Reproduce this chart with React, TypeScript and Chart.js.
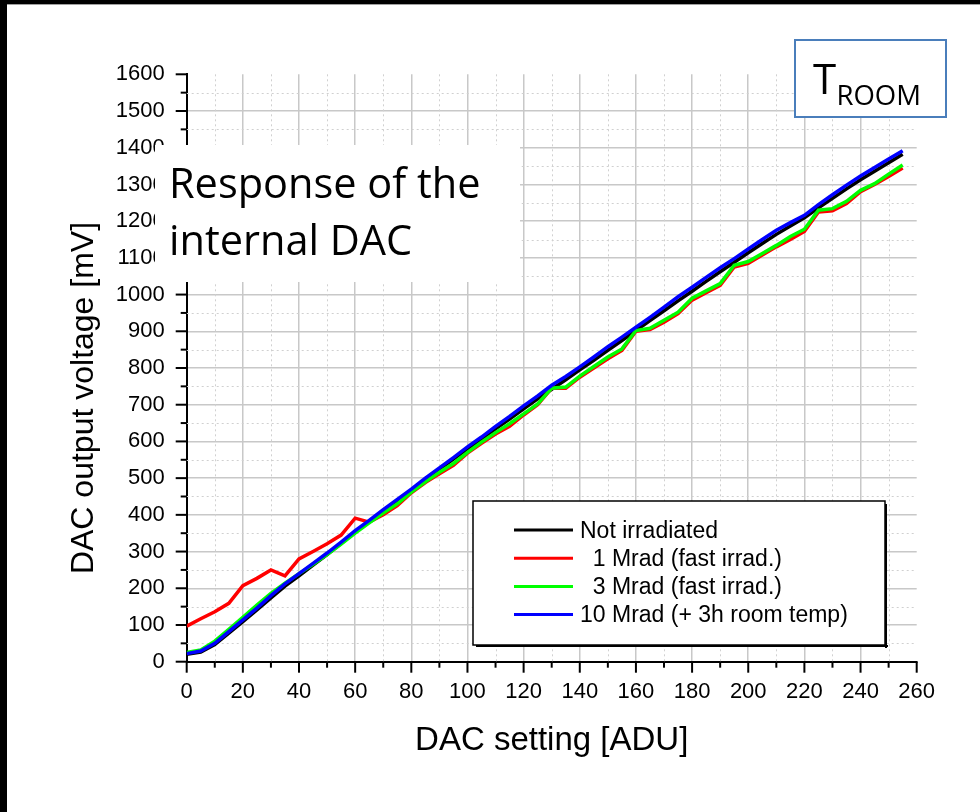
import { useEffect, useRef } from 'react';
import { Chart, registerables } from 'chart.js';

Chart.register(...registerables);

// DAC setting [ADU]
const dacSettings = [
  0, 5, 10, 15, 20, 25, 30, 35, 40, 45, 50, 55, 60, 65, 70, 75, 80, 85, 90, 95,
  100, 105, 110, 115, 120, 125, 130, 135, 140, 145, 150, 155, 160, 165, 170, 175,
  180, 185, 190, 195, 200, 205, 210, 215, 220, 225, 230, 235, 240, 245, 250, 255,
];

// DAC output voltage [mV]
const notIrradiated = [
  20, 26, 47, 78, 109, 141, 174, 206, 234, 263, 292, 322, 353, 382, 411, 439, 467, 496, 524, 552,
  580, 607, 634, 661, 689, 716, 742, 768, 795, 821, 848, 875, 902, 929, 956, 983,
  1009, 1036, 1062, 1088, 1114, 1139, 1164, 1187, 1209, 1236, 1262, 1288, 1313, 1336, 1359, 1382,
];
const mrad1 = [
  97, 117, 136, 159, 207, 227, 250, 234, 280, 300, 321, 345, 391, 380, 400, 425, 460, 488, 512, 535,
  568, 595, 620, 641, 672, 700, 745, 745, 775, 800, 825, 848, 900, 905, 925, 948,
  985, 1005, 1025, 1075, 1085, 1108, 1130, 1150, 1172, 1225, 1228, 1248, 1280, 1300, 1322, 1345,
];
const mrad3 = [
  25, 32, 56, 88, 121, 154, 186, 214, 240, 265, 292, 320, 350, 378, 405, 430, 462, 490, 516, 540,
  570, 598, 624, 648, 675, 702, 745, 748, 778, 804, 830, 852, 902, 908, 930, 952,
  990, 1010, 1030, 1080, 1090, 1112, 1134, 1158, 1178, 1230, 1234, 1254, 1284, 1302, 1328, 1353,
];
const mrad10 = [
  22, 29, 50, 82, 114, 146, 180, 212, 240, 268, 296, 326, 357, 385, 414, 442, 470, 500, 528, 556,
  585, 612, 641, 668, 697, 724, 753, 777, 803, 830, 858, 884, 911, 938, 966, 994,
  1020, 1047, 1073, 1098, 1124, 1150, 1175, 1196, 1216, 1245, 1272, 1298, 1323, 1346, 1369, 1392,
];

const seriesLabels = [
  'Not irradiated',
  '  1 Mrad (fast irrad.)',
  '  3 Mrad (fast irrad.)',
  '10 Mrad (+ 3h room temp)',
];
const seriesColors = ['#000000', '#ff0000', '#00ff00', '#0000ff'];
const seriesValues = [notIrradiated, mrad1, mrad3, mrad10];
const drawOrder = [3, 2, 1, 0];

const xAxisTitle = 'DAC setting [ADU]';
const yAxisTitle = 'DAC output voltage [mV]';
const noteLines = ['Response of the', 'internal DAC'];
const tempMain = 'T';
const tempSub = 'ROOM';

const SANS = '"Liberation Sans", Arial, sans-serif';
const OPEN = '"Open Sans", "Noto Sans", sans-serif';

const decorPlugin = {
  id: 'decor',
  beforeDatasetsDraw(chart: any) {
    const { ctx, chartArea: a, scales } = chart;
    const x = scales.x;
    const y = scales.y;
    ctx.save();
    ctx.strokeStyle = '#d0d0d0';
    ctx.lineWidth = 1;
    ctx.setLineDash([2, 3]);
    for (let v = 50; v < 1600; v += 100) {
      const py = Math.round(y.getPixelForValue(v)) + 0.5;
      ctx.beginPath();
      ctx.moveTo(a.left, py);
      ctx.lineTo(a.right, py);
      ctx.stroke();
    }
    for (let v = 10; v < 260; v += 20) {
      const px = Math.round(x.getPixelForValue(v)) + 0.5;
      ctx.beginPath();
      ctx.moveTo(px, a.top);
      ctx.lineTo(px, a.bottom);
      ctx.stroke();
    }
    ctx.restore();
  },
  afterDraw(chart: any) {
    const { ctx, chartArea: a, scales } = chart;
    const x = scales.x;
    const y = scales.y;
    ctx.save();

    // tick marks
    ctx.strokeStyle = '#000';
    ctx.lineWidth = 2;
    ctx.setLineDash([]);
    for (let v = 0; v <= 1600; v += 50) {
      const py = y.getPixelForValue(v);
      const len = v % 100 === 0 ? 11 : 6;
      ctx.beginPath();
      ctx.moveTo(a.left, py);
      ctx.lineTo(a.left - len, py);
      ctx.stroke();
    }
    for (let v = 0; v <= 260; v += 10) {
      const px = x.getPixelForValue(v);
      const len = v % 20 === 0 ? 11 : 6;
      ctx.beginPath();
      ctx.moveTo(px, a.bottom);
      ctx.lineTo(px, a.bottom + len);
      ctx.stroke();
    }

    // axis titles
    ctx.fillStyle = '#000';
    ctx.font = '33px ' + SANS;
    ctx.textAlign = 'center';
    ctx.textBaseline = 'alphabetic';
    ctx.fillText(xAxisTitle, (a.left + a.right) / 2, 750);
    ctx.save();
    ctx.translate(93, 398);
    ctx.rotate(-Math.PI / 2);
    ctx.font = '32px ' + SANS;
    ctx.fillText(yAxisTitle, 0, 0);
    ctx.restore();

    // legend
    const lx = 473, ly = 501, lw = 412, lh = 144;
    ctx.fillStyle = '#fff';
    ctx.fillRect(lx, ly, lw, lh);
    ctx.fillStyle = '#000';
    ctx.fillRect(lx + 3, ly + lh, lw, 2);
    ctx.fillRect(lx + lw, ly + 3, 2, lh);
    ctx.strokeStyle = '#000';
    ctx.lineWidth = 1.5;
    ctx.strokeRect(lx, ly, lw, lh);
    ctx.font = '23px ' + SANS;
    ctx.textAlign = 'left';
    chart.data.datasets.forEach((ds: any, i: number) => {
      const base = 537.7 + i * 28.2;
      ctx.strokeStyle = ds.borderColor;
      ctx.lineWidth = 3;
      ctx.beginPath();
      ctx.moveTo(514, base - 7.7);
      ctx.lineTo(573, base - 7.7);
      ctx.stroke();
      ctx.fillStyle = '#000';
      ctx.fillText(ds.label, 580, base);
    });

    // note box
    ctx.fillStyle = '#fff';
    ctx.fillRect(155, 145, 365, 137);
    ctx.fillStyle = '#000';
    ctx.font = '41.5px ' + OPEN;
    ctx.fillText(noteLines[0], 169, 198);
    ctx.fillText(noteLines[1], 169, 255);

    // T_ROOM box
    ctx.fillStyle = '#fff';
    ctx.fillRect(795, 40, 151, 77);
    ctx.strokeStyle = '#4a7ebb';
    ctx.lineWidth = 2;
    ctx.strokeRect(795, 40, 151, 77);
    ctx.fillStyle = '#000';
    ctx.font = '42px ' + OPEN;
    ctx.fillText(tempMain, 813, 94.3);
    ctx.font = '27.5px ' + OPEN;
    ctx.fillText(tempSub, 836.5, 105);

    // frame bars
    ctx.fillStyle = '#000';
    ctx.fillRect(0, 0, chart.width, 4);
    ctx.fillRect(0, 0, 7, chart.height);
    ctx.fillStyle = '#a0a0a0';
    ctx.fillRect(7, 4, chart.width - 7, 1);

    ctx.restore();
  },
};

export default function App() {
  const ref = useRef<HTMLCanvasElement | null>(null);

  useEffect(() => {
    if (!ref.current) return;
    const datasets = seriesValues.map((vals, i) => ({
      label: seriesLabels[i],
      data: dacSettings.map((d, j) => ({ x: d, y: vals[j] })),
      borderColor: seriesColors[i],
      backgroundColor: seriesColors[i],
      borderWidth: 3.5,
      pointRadius: 0,
      tension: 0,
      fill: false,
      order: drawOrder[i],
    }));
    const chart = new Chart(ref.current, {
      type: 'line',
      data: { datasets },
      options: {
        responsive: false,
        animation: false,
        events: [],
        layout: { padding: { left: 0, top: 74.3, right: 63.3, bottom: 50.3 } },
        plugins: { legend: { display: false }, tooltip: { enabled: false } },
        scales: {
          x: {
            type: 'linear',
            min: 0,
            max: 260,
            afterFit: (s: any) => {
              s.height = 100;
            },
            ticks: {
              stepSize: 20,
              autoSkip: false,
              maxRotation: 0,
              color: '#000',
              padding: 17,
              font: { family: SANS, size: 22 },
              callback: (v: any) => String(v),
            },
            grid: {
              drawTicks: false,
              lineWidth: 1.5,
              color: (c: any) => (c.tick && c.tick.value === 260 ? 'rgba(0,0,0,0)' : '#c8c8c8'),
            },
            border: { display: true, color: '#000', width: 2 },
          },
          y: {
            type: 'linear',
            min: 0,
            max: 1600,
            afterFit: (s: any) => {
              s.width = 186.7;
            },
            ticks: {
              stepSize: 100,
              autoSkip: false,
              color: '#000',
              padding: 22,
              font: { family: SANS, size: 22 },
              callback: (v: any) => String(v),
            },
            grid: {
              drawTicks: false,
              lineWidth: 1.5,
              color: (c: any) => (c.tick && c.tick.value === 1600 ? 'rgba(0,0,0,0)' : '#c8c8c8'),
            },
            border: { display: true, color: '#000', width: 2 },
          },
        },
      },
      plugins: [decorPlugin],
    } as any);
    return () => chart.destroy();
  }, []);

  return (
    <div style={{ position: 'fixed', left: 0, top: 0, width: 980, height: 812, background: '#fff' }}>
      <canvas ref={ref} width={980} height={812} style={{ display: 'block' }} />
    </div>
  );
}
